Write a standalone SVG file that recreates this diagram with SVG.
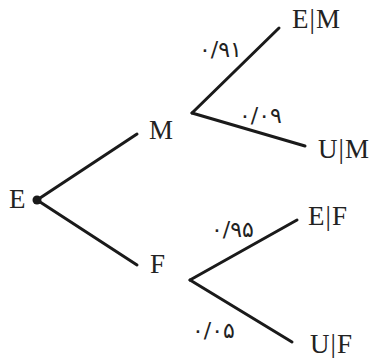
<svg xmlns="http://www.w3.org/2000/svg" width="374" height="358" viewBox="0 0 374 358">
<style>
.e{stroke:#1a1a1a;stroke-width:3;fill:none;stroke-linecap:round}
.t{font-family:"Liberation Serif","Times New Roman",serif;font-size:27px;fill:#222}
.p{font-family:"DejaVu Sans",sans-serif;font-size:22px;letter-spacing:2px;fill:#222}
</style>
<rect width="374" height="358" fill="#fff"/>
<g id="connectors">
<line class="e" x1="37" y1="200" x2="137" y2="134"/>
<line class="e" x1="37" y1="200" x2="137" y2="265"/>
<line class="e" x1="192" y1="113" x2="279" y2="28"/>
<line class="e" x1="192" y1="113" x2="305" y2="146"/>
<line class="e" x1="190" y1="280" x2="297" y2="220"/>
<line class="e" x1="190" y1="280" x2="292" y2="342"/>
<text class="p" x="199" y="57">۰/۹۱</text>
<text class="p" x="239" y="123">۰/۰۹</text>
<text class="p" x="211" y="237">۰/۹۵</text>
<text class="p" x="192" y="338">۰/۰۵</text>
</g>
<g id="node-E"><circle cx="37" cy="200" r="4.5" fill="#1a1a1a"/><text class="t" x="9" y="208">E</text></g>
<g id="node-M"><text class="t" x="149" y="139">M</text></g>
<g id="node-F"><text class="t" x="150" y="273">F</text></g>
<g id="node-EM"><text class="t" x="292" y="28">E<tspan dx="1">|</tspan><tspan dx="1">M</tspan></text></g>
<g id="node-UM"><text class="t" x="318" y="158">U<tspan dx="1">|</tspan><tspan dx="1">M</tspan></text></g>
<g id="node-EF"><text class="t" x="308" y="225">E<tspan dx="1">|</tspan><tspan dx="1">F</tspan></text></g>
<g id="node-UF"><text class="t" x="310" y="353">U<tspan dx="1">|</tspan><tspan dx="1">F</tspan></text></g>
</svg>
